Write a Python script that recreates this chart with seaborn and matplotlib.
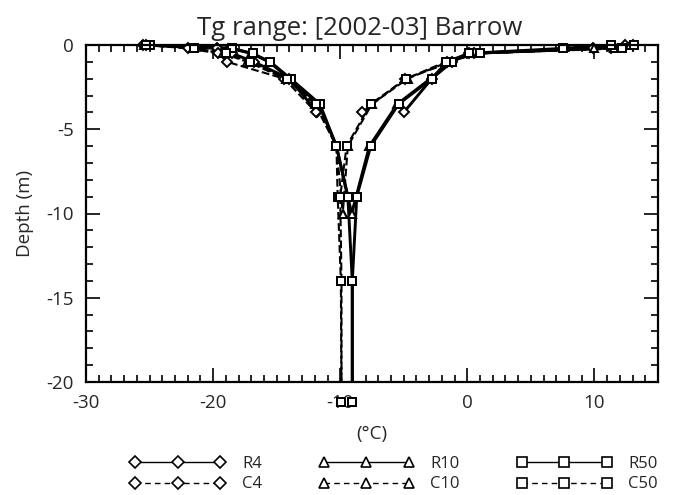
import numpy as np
import pandas as pd
import matplotlib
matplotlib.use("Agg")
import matplotlib.pyplot as plt
from matplotlib.lines import Line2D
from matplotlib.ticker import MultipleLocator
import seaborn as sns

sns.set_theme(style="white")
plt.rcParams["font.family"] = ["Open Sans", "DejaVu Sans"]
plt.rcParams["axes.unicode_minus"] = False

# Depth nodes (m) of the three soil column setups
depth_4 = [0.0, 0.2, 0.5, 1.0, 2.0, 4.0]
depth_10 = [0.0, 0.2, 0.5, 1.0, 2.0, 3.5, 6.0, 10.0]
depth_50 = [0.0, 0.2, 0.5, 1.0, 2.0, 3.5, 6.0, 9.0, 14.0, 21.2]

# Annual minimum ground temperature (degC) at each node
r4_min = [-25.5, -19.7, -18.5, -16.8, -14.0, -11.8]
c4_min = [-25.3, -22.0, -19.6, -18.9, -14.4, -11.9]
r10_min = [-25.2, -18.6, -17.0, -15.6, -14.0, -11.7, -10.3, -9.1]
c10_min = [-25.4, -21.6, -19.2, -17.3, -14.3, -12.0, -10.3, -9.8]
r50_min = [-25.0, -18.5, -16.9, -15.5, -13.9, -11.6, -10.3, -9.4, -9.05, -9.05]
c50_min = [-25.3, -21.5, -19.0, -17.1, -14.2, -11.9, -10.3, -10.2, -9.95, -9.9]

# Annual maximum ground temperature (degC) at each node
r4_max = [12.4, 9.9, 0.1, -1.6, -2.8, -5.0]
c4_max = [13.0, 11.3, 0.5, -1.2, -4.9, -8.3]
r10_max = [11.5, 10.0, 0.2, -1.3, -2.9, -5.5, -7.7, -9.1]
c10_max = [12.8, 11.5, 0.8, -1.5, -4.7, -7.5, -9.4, -9.8]
r50_max = [11.3, 7.5, 0.1, -1.2, -2.8, -5.4, -7.6, -8.7, -9.05, -9.05]
c50_max = [13.1, 12.2, 1.0, -1.7, -4.8, -7.6, -9.5, -10.0, -9.9, -9.9]

series_names = ["R4", "C4", "R10", "C10", "R50", "C50"]
series_depth = [depth_4, depth_4, depth_10, depth_10, depth_50, depth_50]
series_min = [r4_min, c4_min, r10_min, c10_min, r50_min, c50_min]
series_max = [r4_max, c4_max, r10_max, c10_max, r50_max, c50_max]
series_marker = ["D", "D", "^", "^", "s", "s"]
series_dash = ["-", "--", "-", "--", "-", "--"]

x_ticks = [-30, -20, -10, 0, 10]
y_ticks = [0, -5, -10, -15, -20]
x_lim = (-30, 15)
y_lim = (-20, 0)

fig = plt.figure(figsize=(6.75, 4.95), dpi=100)
ax = fig.add_axes([86 / 675, 1 - 382 / 495, 572 / 675, 337 / 495])

marker_size = {"D": 5.0, "^": 6.0, "s": 6.0}

for name, dep, tmin, tmax, mk, ls in zip(series_names, series_depth, series_min,
                                          series_max, series_marker, series_dash):
    lw = 2.1 if ls == "-" else 1.5
    for temps in (tmin, tmax):
        df = pd.DataFrame({"temp": temps, "z": [-d for d in dep]})
        # profile line, clipped to the plotted depth range
        sns.lineplot(data=df, x="temp", y="z", sort=False, estimator=None, ax=ax,
                     color="black", linestyle=ls, linewidth=lw,
                     dashes=(4, 3) if ls == "--" else None, clip_on=True)
        # node symbols stay visible on the frame and below it
        ax.plot(df["temp"], df["z"], linestyle="none", marker=mk,
                markersize=marker_size[mk], markerfacecolor="white",
                markeredgecolor="black", markeredgewidth=1.4, clip_on=False,
                zorder=5)

ax.set_xlim(*x_lim)
ax.set_ylim(*y_lim)
ax.set_xticks(x_ticks)
ax.set_yticks(y_ticks)
ax.set_xticklabels([str(t) for t in x_ticks])
ax.set_yticklabels([str(t) for t in y_ticks])
ax.xaxis.set_minor_locator(MultipleLocator(1))
ax.yaxis.set_minor_locator(MultipleLocator(1))
ax.tick_params(which="both", direction="in", top=True, right=True,
               bottom=True, left=True, color="black", width=1.2)
ax.tick_params(which="major", length=10, labelsize=13.5, pad=9)
ax.tick_params(which="minor", length=5)
for sp in ax.spines.values():
    sp.set_linewidth(1.6)
    sp.set_color("black")
    sp.set_zorder(6)

ax.set_xlabel("(°C)", fontsize=13.5, labelpad=9)
ax.set_ylabel("Depth (m)", fontsize=13.5, labelpad=9)
fig.text(360 / 675, 1 - 35 / 495, "Tg range: [2002-03] Barrow",
         ha="center", va="baseline", fontsize=18.5)

handles = []
for name, mk, ls in zip(series_names, series_marker, series_dash):
    handles.append(Line2D([], [], color="black", linestyle=ls, linewidth=1.0,
                          dashes=(4, 3) if ls == "--" else (None, None),
                          marker=mk, markersize=marker_size[mk] + 1,
                          markerfacecolor="white", markeredgecolor="black",
                          markeredgewidth=1.2))
fig.legend(handles, series_names, ncol=3, loc="center",
           bbox_to_anchor=(394 / 675, 1 - 474 / 495), frameon=False,
           numpoints=3, handlelength=5.7, fontsize=12, columnspacing=3.4,
           handletextpad=1.0, labelspacing=0.3)

fig.savefig("out.png", dpi=100)
